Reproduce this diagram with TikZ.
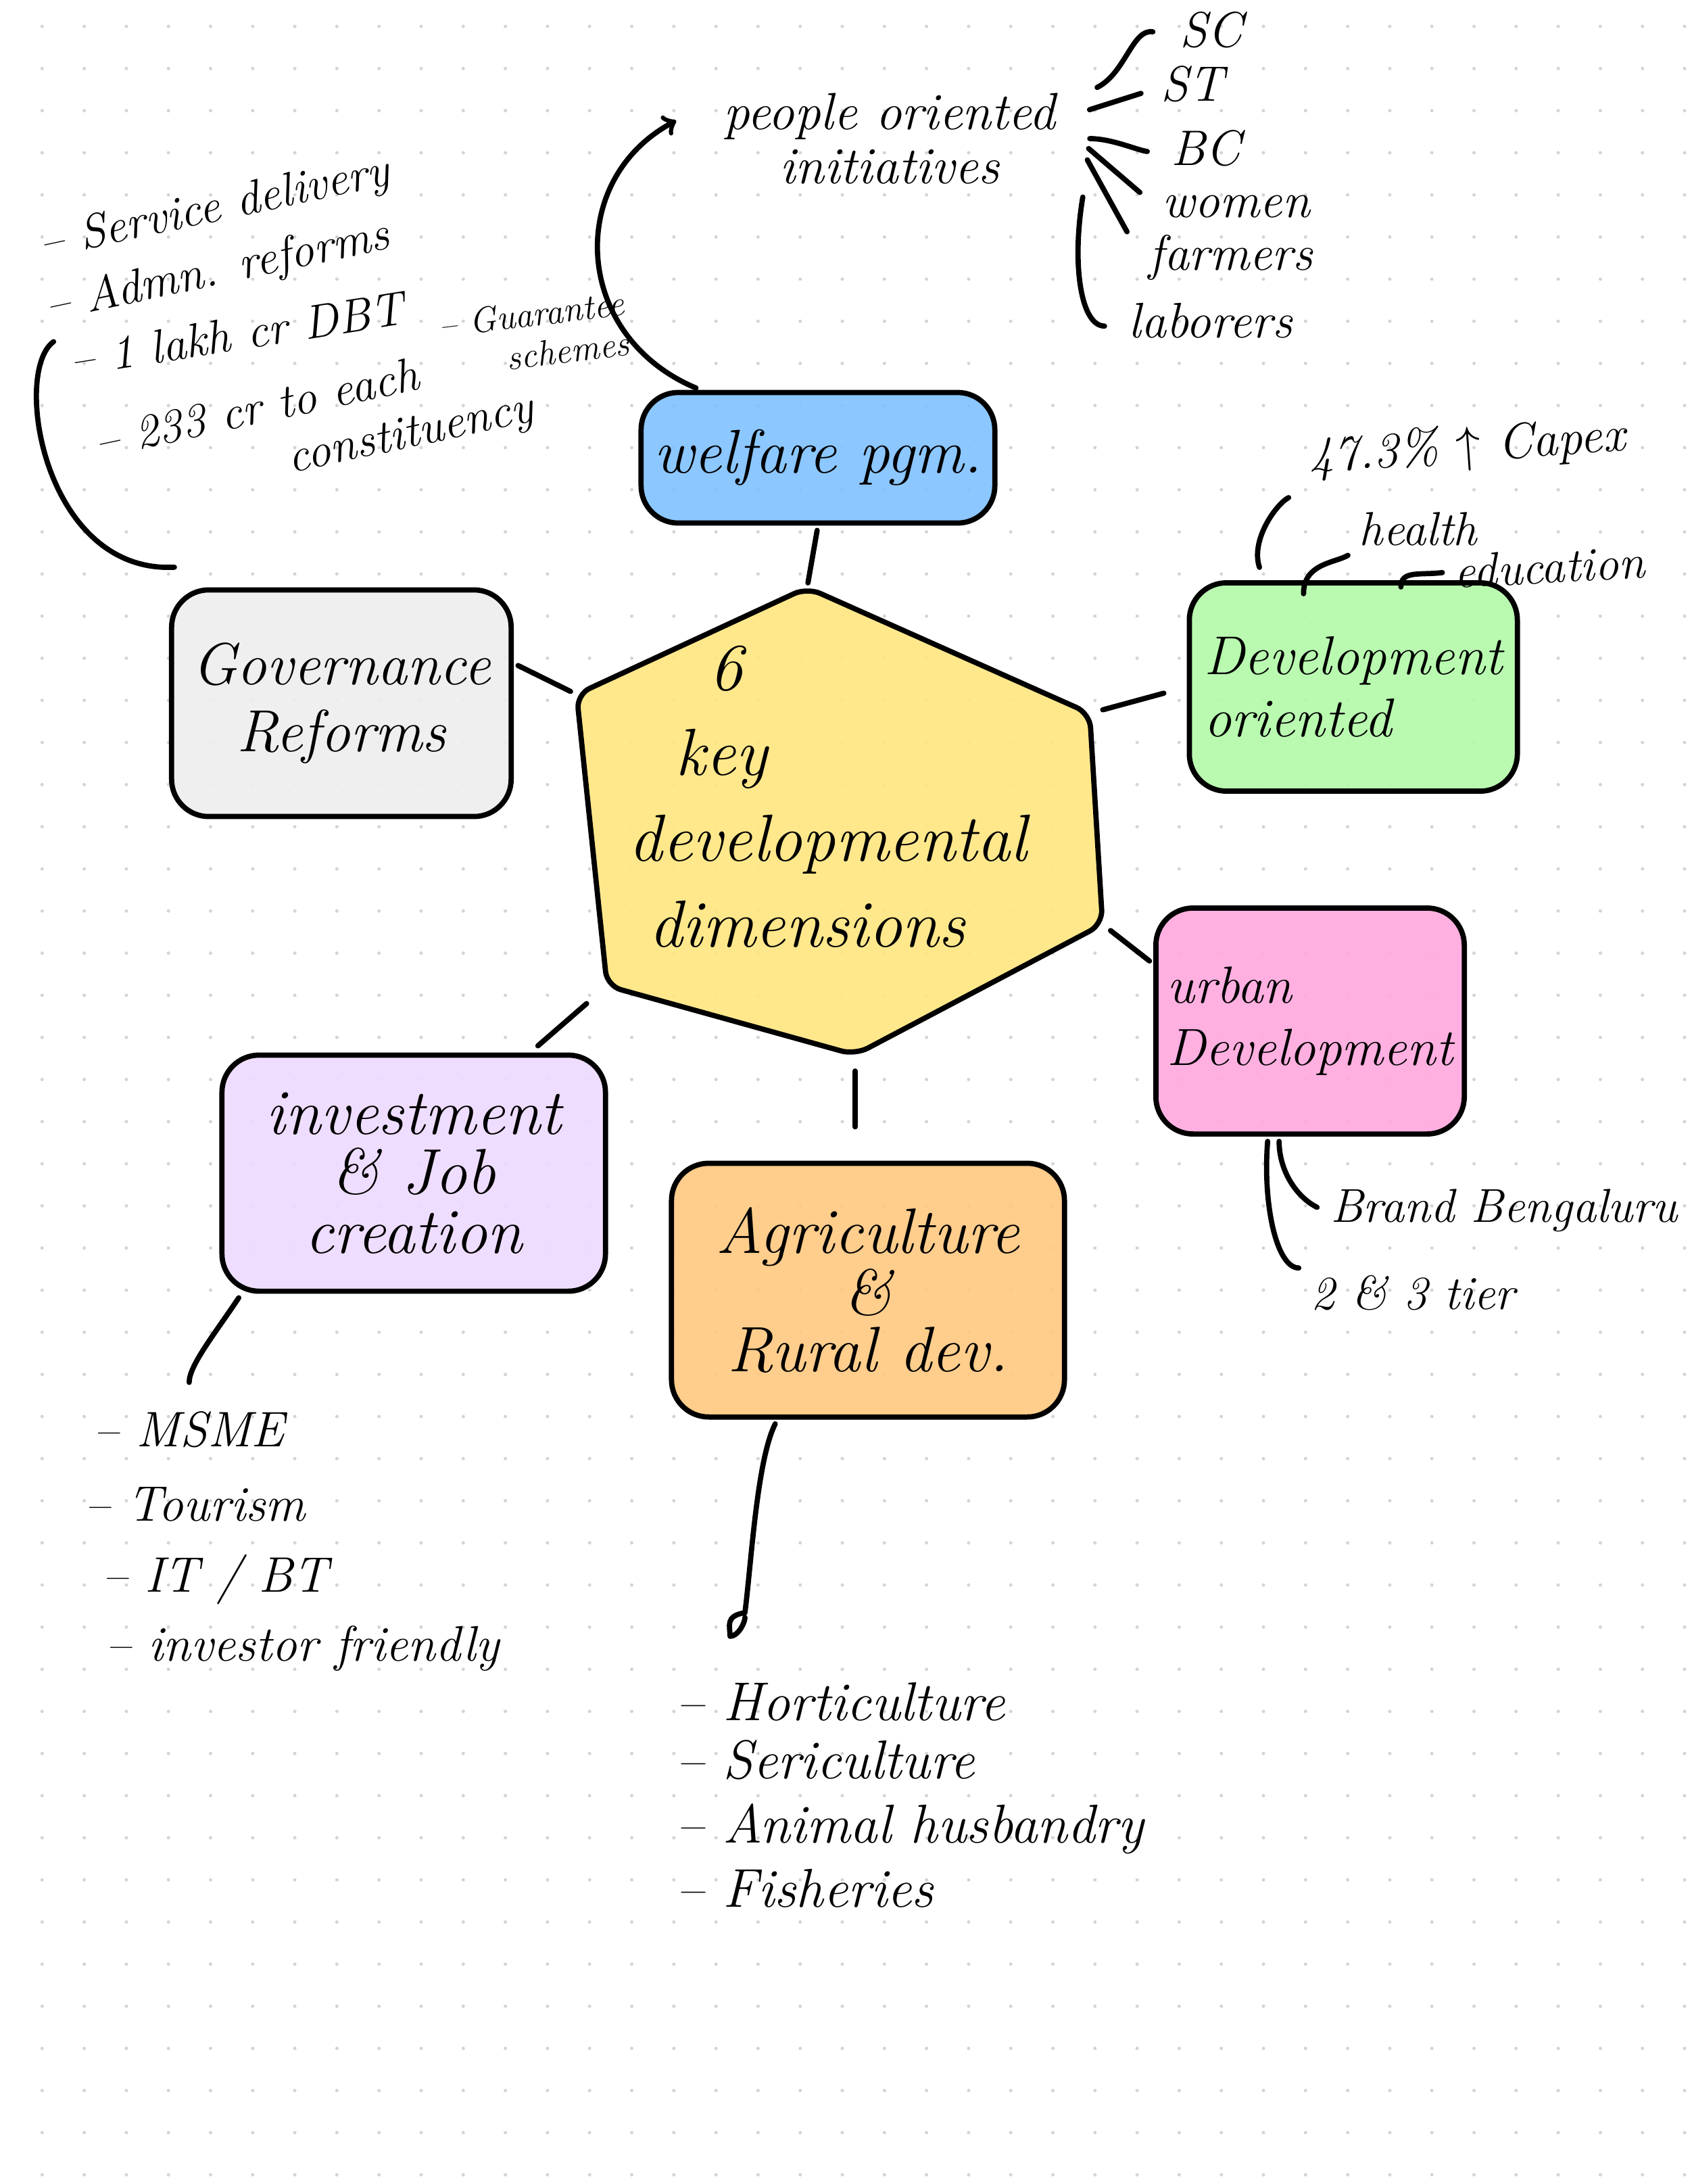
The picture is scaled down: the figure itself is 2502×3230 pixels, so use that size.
\documentclass[tikz,border=0pt]{standalone}
\usepackage{tikz}
\usetikzlibrary{positioning}

\definecolor{dotgray}{RGB}{212,212,212}
\definecolor{hexyellow}{RGB}{255,230,128}
\definecolor{welfareblue}{RGB}{128,193,255}
\definecolor{govgray}{RGB}{238,238,238}
\definecolor{devgreen}{RGB}{178,250,168}
\definecolor{urbpink}{RGB}{255,168,222}
\definecolor{invlilac}{RGB}{238,218,255}
\definecolor{agriorange}{RGB}{255,200,128}

\begin{document}
\begin{tikzpicture}[x=0.01cm,y=-0.01cm,
	line width=2.2pt,line cap=round,line join=round,
	every node/.style={font=\itshape},
	dimbox/.style={draw=black,rounded corners=0.55cm,fill opacity=0.9,text opacity=1,
		align=center,font=\fontsize{23}{26}\selectfont\itshape},
	note/.style={font=\fontsize{20}{23}\selectfont\itshape,inner sep=2pt},
	item/.style={note,font=\fontsize{21}{24}\selectfont\itshape,anchor=west,
		text height=14pt,text depth=4pt},
	link/.style={shorten <=2pt,shorten >=2pt}]

  % paper with dots
  \fill[white] (0,0) rectangle (2502,3230);
  \useasboundingbox (0,0) rectangle (2502,3230);
  \foreach \i in {1,...,40}{
	\foreach \j in {0,...,51}{
		\fill[dotgray] ({62.3*\i},{39+62.3*\j}) circle[radius=0.025cm];
  }}

  % centre hexagon
  \coordinate (hx1) at (1194,869);
  \coordinate (hx2) at (1612,1055);
  \coordinate (hx3) at (1631,1367);
  \coordinate (hx4) at (1265,1560);
  \coordinate (hx5) at (898,1458);
  \coordinate (hx6) at (853,1027);
  \filldraw[fill=hexyellow,fill opacity=0.9,rounded corners=6pt]
	(hx1) -- (hx2) -- (hx3) -- (hx4) -- (hx5) -- (hx6) -- cycle;
  \node [align=left,font=\fontsize{28}{36}\selectfont\itshape] (hub) at (1225,1178)
	{\hspace*{1.2em}6\\\hspace*{0.7em}key\\developmental\\\hspace*{0.3em}dimensions};

  % the six dimensions
  \node [dimbox,fill=welfareblue,minimum width=5.23cm,minimum height=1.93cm,
	font=\fontsize{26}{30}\selectfont\itshape] (wel) at (1210,677) {welfare pgm.};
  \node [dimbox,fill=govgray,minimum width=5.02cm,minimum height=3.35cm,
	font=\fontsize{25}{28}\selectfont\itshape] (gov) at (505,1040) {Governance\\Reforms};
  \node [dimbox,fill=devgreen,minimum width=4.85cm,minimum height=3.08cm,align=left] (dev) at (2002,1016) {Development\\oriented};
  \node [dimbox,fill=urbpink,minimum width=4.56cm,minimum height=3.34cm,align=left,
	font=\fontsize{22}{26}\selectfont\itshape] (urb) at (1938,1510) {urban\\Development};
  \node [dimbox,fill=invlilac,minimum width=5.67cm,minimum height=3.49cm,
	font=\fontsize{27}{25}\selectfont\itshape] (inv) at (612,1735) {investment\\\& Job\\creation};
  \node [dimbox,fill=agriorange,minimum width=5.81cm,minimum height=3.75cm,
	font=\fontsize{27}{24}\selectfont\itshape] (agri) at (1284,1908) {Agriculture\\\&\\Rural dev.};

  \draw[link] (wel.south) -- (hx1);
  \draw[link,shorten >=0.1cm] (gov.13) -- (hx6);
  \draw[link,shorten <=0.35cm,shorten >=0.2cm] (dev.west) -- (hx2);
  \draw[link,shorten >=0.15cm] (urb.160) -- (hx3);
  \draw[link,shorten <=0.15cm,shorten >=0.4cm] (inv.46) -- (hx5);
  \draw[link,shorten <=0.24cm,shorten >=0.5cm] (hx4) -- (agri.north -| hx4);

  % welfare: people oriented initiatives
  \node [note,font=\fontsize{22}{23}\selectfont\itshape,align=center,inner xsep=0.4cm] (ppl) at (1316,205) {people oriented\\initiatives};
  \draw[link,->,shorten >=0.3cm] (wel.150) .. controls +(-190,-80) and +(-190,100) .. (ppl.172);

  \node [item] (sc) at (1735,52) {SC};
  \node [item,below=0.8cm of sc.west,anchor=west,xshift=-0.28cm] (st) {ST};
  \node [item,below=0.95cm of st.west,anchor=west,xshift=0.15cm] (bc) {BC};
  \node [item,below=0.77cm of bc.west,anchor=west,xshift=-0.13cm] (wom) {women};
  \node [item,below=0.78cm of wom.west,anchor=west,xshift=-0.2cm] (far) {farmers};
  \node [item,below=1cm of far.west,anchor=west,xshift=-0.3cm] (lab) {laborers};

  \draw[link,shorten <=0.2cm,shorten >=0.3cm] (ppl.13) .. controls +(60,-30) and +(-60,-10) .. (sc.west);
  \draw[link,shorten >=0.2cm] (ppl.8) -- (st.west);
  \draw[link,shorten >=0.25cm] (ppl.east) .. controls +(40,0) and +(-40,-5) .. (bc.west);
  \draw[link,shorten >=0.3cm] (ppl.-2) -- (wom.west);
  \draw[link,shorten >=0.45cm] (ppl.-5) -- (far.west);
  \draw[link,shorten <=0.2cm,shorten >=0.25cm] (ppl.-13) .. controls +(-20,120) and +(-60,0) .. (lab.west);

  % governance notes
  \node [note,rotate=12] (svc) at (318,310) {-- Service delivery};
  \node [note,rotate=12] (adm) at (322,403) {-- Admn. reforms};
  \node [note,rotate=9] (dbt) at (350,494) {-- 1 lakh cr DBT};
  \node [note,rotate=12,align=left,anchor=west] (each) at (140,702) {-- 233 cr to each\\\hspace*{3.9em}constituency};
  \node [note,rotate=7,align=right,font=\fontsize{15}{17}\selectfont\itshape] (guar) at (790,494) {-- Guarantee\\schemes};
  \draw[link,shorten <=0.1cm] (dbt.north west) .. controls +(-70,50) and +(-200,10) .. ([xshift=0.15cm,yshift=0.3cm]gov.north west);

  % development notes
  \node [note,rotate=4,font=\fontsize{21}{23}\selectfont\itshape] (cap) at (2170,662) {47.3\% $\uparrow$ Capex};
  \node [note] (hea) at (2098,782) {health};
  \node [note,rotate=3] (edu) at (2292,838) {education};
  \draw[link,shorten <=0.2cm,shorten >=0.25cm] (dev.130) .. controls +(-20,-60) and +(-40,20) .. (cap.south west);
  \draw[link,shorten >=-0.2cm] (hea.south west) .. controls +(-25,15) and +(0,-25) .. (dev.115);
  \draw[link,shorten >=-0.1cm] (edu.west) .. controls +(-40,5) and +(0,-15) .. (dev.66);

  % urban notes
  \node [note] (brand) at (2225,1790) {Brand Bengaluru};
  \node [note] (tier) at (2090,1912) {2 \& 3 tier};
  \draw[link,shorten >=0.1cm] (urb.255) .. controls +(0,50) and +(-40,-20) .. (brand.west);
  \draw[link] (urb.250) .. controls +(-8,100) and +(-40,0) .. (tier.north west);

  % investment notes
  \node [item] (msme) at (128,2122) {-- MSME};
  \node [item,below=1.1cm of msme.west,anchor=west,xshift=-0.13cm] (tour) {-- Tourism};
  \node [item,below=1.05cm of tour.west,anchor=west,xshift=0.26cm] (itbt) {-- IT / BT};
  \node [item,below=1.02cm of itbt.west,anchor=west,xshift=0.05cm] (invf) {-- investor friendly};
  \draw[link,shorten >=0.35cm] (inv.215) .. controls +(-40,60) and +(0,-60) .. (msme.north);

  % agriculture notes
  \node [item,font=\fontsize{23}{24}\selectfont\itshape] (hort) at (990,2527) {-- Horticulture};
  \node [item,font=\fontsize{23}{24}\selectfont\itshape,below=0.86cm of hort.west,anchor=west] (seri) {-- Sericulture};
  \node [item,font=\fontsize{23}{24}\selectfont\itshape,below=0.95cm of seri.west,anchor=west] (anim) {-- Animal husbandry};
  \node [item,font=\fontsize{23}{24}\selectfont\itshape,below=0.95cm of anim.west,anchor=west] (fish) {-- Fisheries};
  \coordinate (agtip) at (1102,2385);
  \draw[link] (agri.235) .. controls +(-30,60) and +(10,-80) .. (agtip)
	.. controls +(-30,5) and +(0,-15) .. ++(-22,35) .. controls +(12,0) and +(0,15) .. (agtip);

\end{tikzpicture}
\end{document}
